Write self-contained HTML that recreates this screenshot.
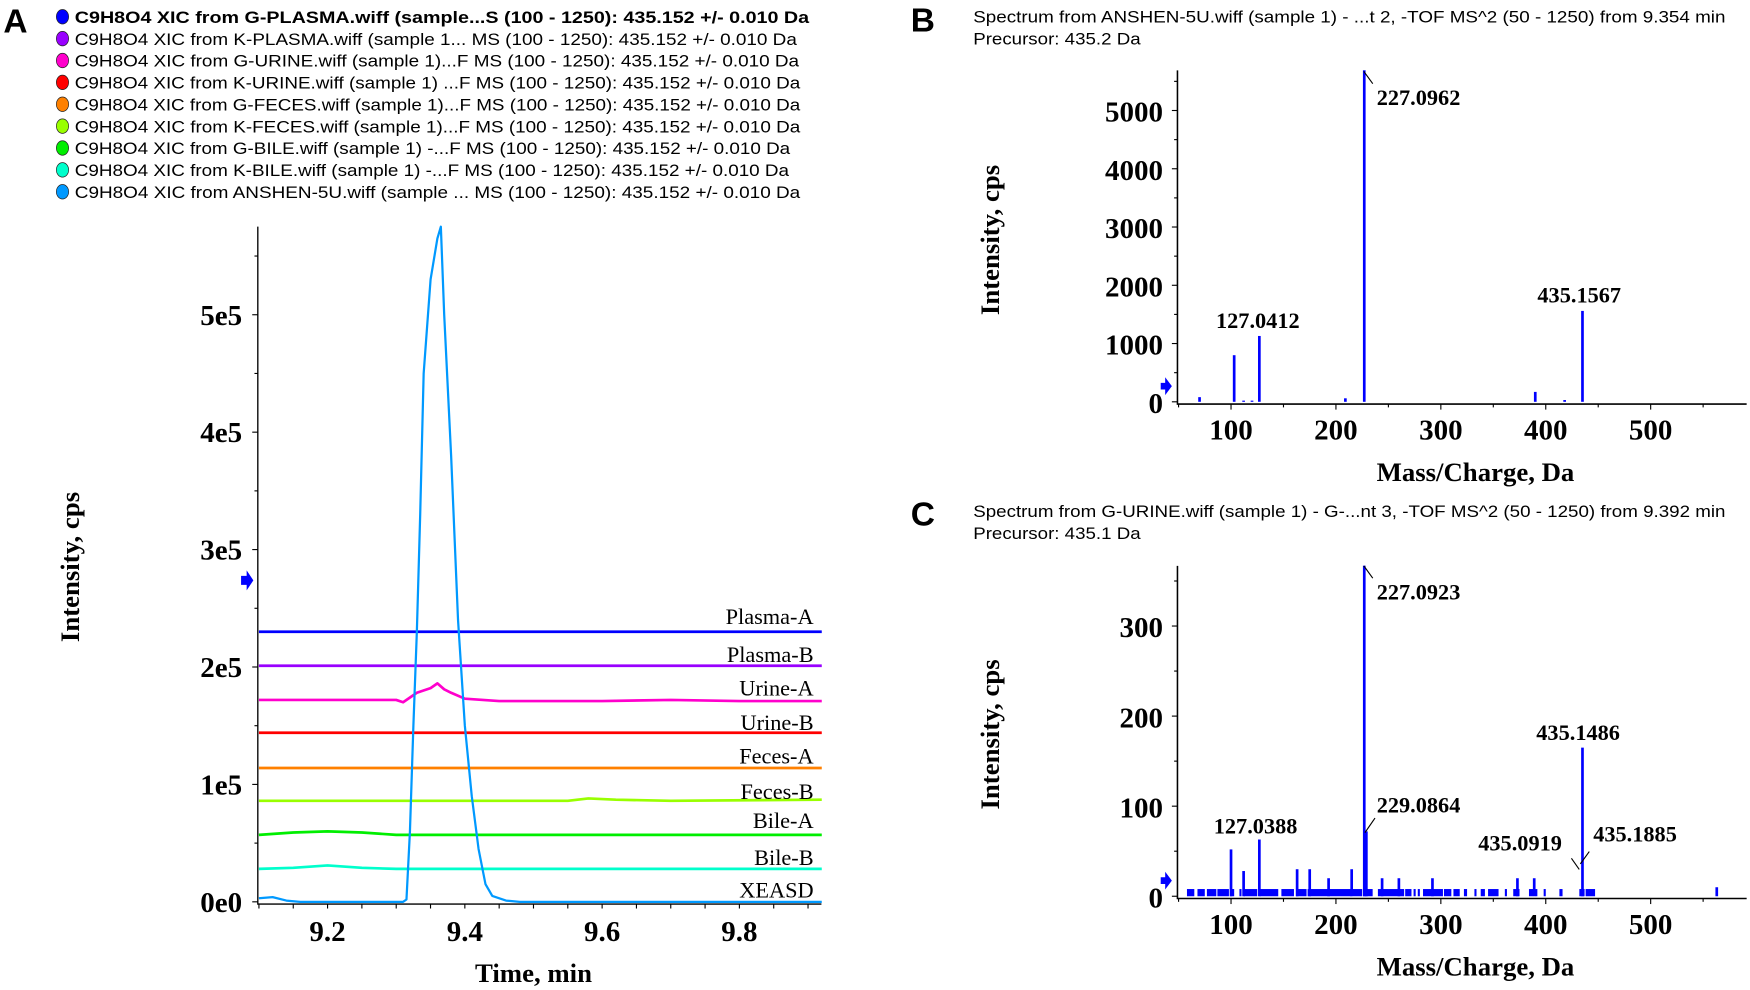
<!DOCTYPE html>
<html><head><meta charset="utf-8"><style>
html,body{margin:0;padding:0;background:#fff;}
svg{display:block;}
.tk{font-family:"Liberation Serif",serif;font-weight:bold;font-size:26px;}
.lab{font-family:"Liberation Serif",serif;font-weight:bold;font-size:20px;}
.ttl{font-family:"Liberation Serif",serif;font-weight:bold;font-size:24px;}
.leg{font-family:"Liberation Sans",sans-serif;font-size:15px;}
.pl{font-family:"Liberation Sans",sans-serif;font-weight:bold;font-size:30px;}
.trl{font-family:"Liberation Serif",serif;font-size:20px;}
</style></head><body>
<svg id="fig" width="1750" height="990" viewBox="0 0 1568 887" preserveAspectRatio="none" xmlns="http://www.w3.org/2000/svg">
<g id="gA"></g>
<g id="gB"></g>
<g id="gC"></g>
</svg>
<script>
// ---------- Panel A data ----------
const legendTexts = [
 "C9H8O4 XIC from G-PLASMA.wiff (sample...S (100 - 1250): 435.152 +/- 0.010 Da",
 "C9H8O4 XIC from K-PLASMA.wiff (sample 1... MS (100 - 1250): 435.152 +/- 0.010 Da",
 "C9H8O4 XIC from G-URINE.wiff (sample 1)...F MS (100 - 1250): 435.152 +/- 0.010 Da",
 "C9H8O4 XIC from K-URINE.wiff (sample 1) ...F MS (100 - 1250): 435.152 +/- 0.010 Da",
 "C9H8O4 XIC from G-FECES.wiff (sample 1)...F MS (100 - 1250): 435.152 +/- 0.010 Da",
 "C9H8O4 XIC from K-FECES.wiff (sample 1)...F MS (100 - 1250): 435.152 +/- 0.010 Da",
 "C9H8O4 XIC from G-BILE.wiff (sample 1) -...F MS (100 - 1250): 435.152 +/- 0.010 Da",
 "C9H8O4 XIC from K-BILE.wiff (sample 1) -...F MS (100 - 1250): 435.152 +/- 0.010 Da",
 "C9H8O4 XIC from ANSHEN-5U.wiff (sample ... MS (100 - 1250): 435.152 +/- 0.010 Da"];
const legendEnds = [725,714,716,717,717,717,708,707,717];
const traceNames = ["Plasma-A","Plasma-B","Urine-A","Urine-B","Feces-A","Feces-B","Bile-A","Bile-B","XEASD"];
const traceColors = ["#0000ff","#9900ff","#ff00cc","#ff0000","#ff8000","#99ff00","#00ee00","#00ffcc","#0099ff"];
const traceOffsets = [230000,201000,172000,144000,114000,86000,57000,28000,0];
const timeTicks = [9.2,9.4,9.6,9.8];
const intTicks = [0,100000,200000,300000,400000,500000];
const intTickLabels = ["0e0","1e5","2e5","3e5","4e5","5e5"];
const urineT = [9.10,9.30,9.31,9.33,9.35,9.36,9.37,9.38,9.40,9.45,9.6,9.7,9.8,9.92];
const urineV = [172000,172000,170000,178000,182000,186000,181000,178000,173000,171000,171000,172000,171000,171000];
const bileAT = [9.10,9.15,9.20,9.25,9.30,9.35,9.40,9.92];
const bileAV = [57000,59000,60000,59000,57000,57000,57000,57000];
const bileBT = [9.10,9.15,9.20,9.25,9.30,9.92];
const bileBV = [28000,29000,31000,29000,28000,28000];
const feceBT = [9.10,9.55,9.58,9.62,9.70,9.92];
const feceBV = [86000,86000,88000,87000,86000,87000];
const peakT = [9.10,9.12,9.14,9.16,9.31,9.315,9.32,9.325,9.33,9.335,9.34,9.35,9.36,9.365,9.37,9.38,9.39,9.40,9.41,9.42,9.43,9.44,9.46,9.48,9.92];
const peakV = [3000,4000,1000,0,0,2000,60000,150000,230000,330000,450000,530000,565000,575000,500000,380000,240000,150000,90000,45000,15000,5000,1000,0,0];
const labelYs = [552,586,616,647,677,709,735,768,797];

// ---------- Panel B data ----------
const mzB = [70,103,112,120,127,209,227,390,418,435];
const intB = [80,800,20,20,1130,60,5690,170,30,1560];
const bTicks = [0,1000,2000,3000,4000,5000];
const mzTicks = [100,200,300,400,500];

// ---------- Panel C data ----------
const mzC = [100,112,127,163,175,193,215,227,229,244,260,292,373,389,435,563];
const intC = [52,28,63,30,30,20,30,367,72,20,20,20,20,20,165,10];
const noiseStart = [58,68,77,87,99,108,112,127,148,162,173,216,226,240,266,274,278,283,303,312,322,332,338,345,361,369,384,390,398,413,432,438];
const noiseEnd   = [65,75,86,98,103,110,125,145,160,172,215,225,235,265,272,276,280,302,310,318,325,334,342,355,363,375,388,392,400,416,437,447];
const noiseLevel = 8;
const cTicks = [0,100,200,300];

const NS="http://www.w3.org/2000/svg";
function mk(parent, tag, attrs, text){
  const e=document.createElementNS(NS,tag);
  for(const k in attrs) e.setAttribute(k,attrs[k]);
  if(text!==undefined) e.textContent=text;
  parent.appendChild(e); return e;
}
const gA=document.getElementById('gA'), gB=document.getElementById('gB'), gC=document.getElementById('gC');

// ===== Panel A =====
let t=mk(gA,'text',{x:3,y:29,class:'pl'},'A');


legendTexts.forEach((s,i)=>{
  const y=15+i*19.6;
  const c=mk(gA,'ellipse',{cx:56,cy:y,rx:5.5,ry:6.5,fill:traceColors[i],stroke:'#222','stroke-width':0.6});
  
  
  const tx=mk(gA,'text',{x:67,y:y+5.5,class:'leg',textLength:legendEnds[i]-67,lengthAdjust:'spacingAndGlyphs','font-weight':i===0?'bold':'normal'},s);
  
  
});
const ax0=231, ay0=808, ayTop=203, axRight=736;
const tx0=9.1, tScale=123/0.2;
const iScale=105.2/100000;
const X=v=>ax0+1+(v-tx0)*tScale;
const Y=v=>ay0-v*iScale;
let a=mk(gA,'path',{d:`M${ax0},${ayTop}V${ay0+2}H${axRight}`,stroke:'#000','stroke-width':1.2,fill:'none'});


intTicks.forEach((v,i)=>{
  mk(gA,'line',{x1:ax0-5,x2:ax0,y1:Y(v),y2:Y(v),stroke:'#000'});
  mk(gA,'line',{x1:ax0-3,x2:ax0,y1:Y(v+50000),y2:Y(v+50000),stroke:'#000'});
  const l=mk(gA,'text',{x:ax0-14,y:Y(v)+9,class:'tk','text-anchor':'end'},intTickLabels[i]);
  
  
});
for(let v=9.1;v<=9.92;v+=0.05){ mk(gA,'line',{x1:X(v),x2:X(v),y1:ay0+2,y2:ay0+6,stroke:'#000'}); }
timeTicks.forEach(v=>{
  const l=mk(gA,'text',{x:X(v),y:843,class:'tk','text-anchor':'middle'},v.toFixed(1));
  
  
});
t=mk(gA,'text',{x:478,y:880,class:'ttl','text-anchor':'middle'},'Time, min');


t=mk(gA,'text',{x:0,y:0,class:'ttl','text-anchor':'middle',transform:'translate(71,508) rotate(-90)'},'Intensity, cps');


t=mk(gA,'path',{d:'M216,516h5v-5l6,9l-6,9v-5h-5z',fill:'#0000ff'});


function poly(g,ts,vs,color,name,w){
  const d=ts.map((tt,i)=>(i?'L':'M')+X(tt).toFixed(1)+','+Y(vs[i]).toFixed(1)).join('');
  const p=mk(g,'path',{d:d,stroke:color,'stroke-width':w||2.4,fill:'none','stroke-linejoin':'round'});
  
  
}
const flatT=[9.1,9.92];
traceNames.forEach((n,i)=>{
  if(i===8) return;
  let ts=flatT, vs=[traceOffsets[i],traceOffsets[i]];
  if(i===2){ts=urineT;vs=urineV;}
  if(i===5){ts=feceBT;vs=feceBV;}
  if(i===6){ts=bileAT;vs=bileAV;}
  if(i===7){ts=bileBT;vs=bileBV;}
  poly(gA,ts,vs,traceColors[i],'trace-'+n.toLowerCase());
});
poly(gA,peakT,peakV,traceColors[8],'trace-xeasd',2);
traceNames.forEach((n,i)=>{
  const l=mk(gA,'text',{x:729,y:labelYs[i]+7,class:'trl','text-anchor':'end'},n);
  
  
});

// ===== Spectrum panels =====
function spectrum(g,opt){
  const x0=1055, xR=1565, mzMin=50, mzS=94/100;
  const MX=m=>x0+1+(m-mzMin)*mzS;
  const MY=v=>opt.y0-v*opt.ys;
  let e=mk(g,'text',{x:816,y:opt.top+24,class:'pl'},opt.letter);
  
  
  e=mk(g,'text',{x:872,y:opt.top+16,class:'leg',textLength:1546-872,lengthAdjust:'spacingAndGlyphs'},opt.title1);
  
  
  e=mk(g,'text',{x:872,y:opt.top+36,class:'leg','font-size':'16.5px',textLength:150,lengthAdjust:'spacingAndGlyphs'},opt.title2);
  
  
  e=mk(g,'path',{d:`M${x0},${opt.yTop}V${opt.y0+2}H${xR}`,stroke:'#000','stroke-width':1.4,fill:'none'});
  
  
  opt.ticks.forEach(v=>{
    mk(g,'line',{x1:x0-5,x2:x0,y1:MY(v),y2:MY(v),stroke:'#000'});
    mk(g,'line',{x1:x0-3,x2:x0,y1:MY(v+opt.minor),y2:MY(v+opt.minor),stroke:'#000'});
    const l=mk(g,'text',{x:x0-13,y:MY(v)+10,class:'tk','text-anchor':'end'},String(v));
    
    
  });
  for(let m=50;m<=590;m+=50){ mk(g,'line',{x1:MX(m),x2:MX(m),y1:opt.y0+2,y2:opt.y0+(m%100?5:7),stroke:'#000'}); }
  mzTicks.forEach(m=>{
    const l=mk(g,'text',{x:MX(m),y:opt.y0+34,class:'tk','text-anchor':'middle'},String(m));
    
    
  });
  e=mk(g,'text',{x:1322,y:opt.y0+71,class:'ttl','text-anchor':'middle'},'Mass/Charge, Da');
  
  
  e=mk(g,'text',{x:0,y:0,class:'ttl','text-anchor':'middle',transform:`translate(895,${opt.y0-145}) rotate(-90)`},'Intensity, cps');
  
  
  e=mk(g,'path',{d:`M1040,${opt.y0-17}h4v-5l6,8l-6,8v-5h-4z`,fill:'#0000ff'});
  
  
  if(opt.nS){
    opt.nS.forEach((s,i)=>{
      const r=mk(g,'rect',{x:MX(s),y:MY(opt.nL),width:Math.max(1.5,(opt.nE[i]-s)*mzS),height:opt.nL*opt.ys,fill:'#0000ff'});
      
      
    });
  }
  opt.mz.forEach((m,i)=>{
    const r=mk(g,'rect',{x:MX(m)-1.2,y:MY(opt.iv[i]),width:2.4,height:opt.iv[i]*opt.ys,fill:'#0000ff'});
    
    
  });
  opt.labels.forEach(L=>{
    if(L.lead) mk(g,'line',{x1:L.lead[0],y1:L.lead[1],x2:L.lead[2],y2:L.lead[3],stroke:'#000','stroke-width':1});
    const l=mk(g,'text',{x:L.x,y:L.y+7,class:'lab','text-anchor':'middle'},L.t);
    
    
  });
}
spectrum(gB,{letter:'B',top:4,title1:'Spectrum from ANSHEN-5U.wiff (sample 1) - ...t 2, -TOF MS^2 (50 - 1250) from 9.354 min',
  title2:'Precursor: 435.2 Da',y0:360,yTop:63,ys:52.2/1000,ticks:bTicks,minor:500,mz:mzB,iv:intB,
  labels:[{t:'127.0412',x:1127,y:287},{t:'227.0962',x:1271,y:87,lead:[1222,64,1230,75]},{t:'435.1567',x:1415,y:264}]});
spectrum(gC,{letter:'C',top:447,title1:'Spectrum from G-URINE.wiff (sample 1) - G-...nt 3, -TOF MS^2 (50 - 1250) from 9.392 min',
  title2:'Precursor: 435.1 Da',y0:803,yTop:507,ys:80.7/100,ticks:cTicks,minor:50,mz:mzC,iv:intC,
  nS:noiseStart,nE:noiseEnd,nL:noiseLevel,
  labels:[{t:'227.0923',x:1271,y:530,lead:[1222,507,1230,518]},{t:'229.0864',x:1271,y:721,lead:[1223,746,1232,733]},
   {t:'127.0388',x:1125,y:740},{t:'435.1486',x:1414,y:656},{t:'435.0919',x:1362,y:755,lead:[1408,769,1415,779]},
   {t:'435.1885',x:1465,y:747,lead:[1416,774,1424,763]}]});
</script>
</body></html>
